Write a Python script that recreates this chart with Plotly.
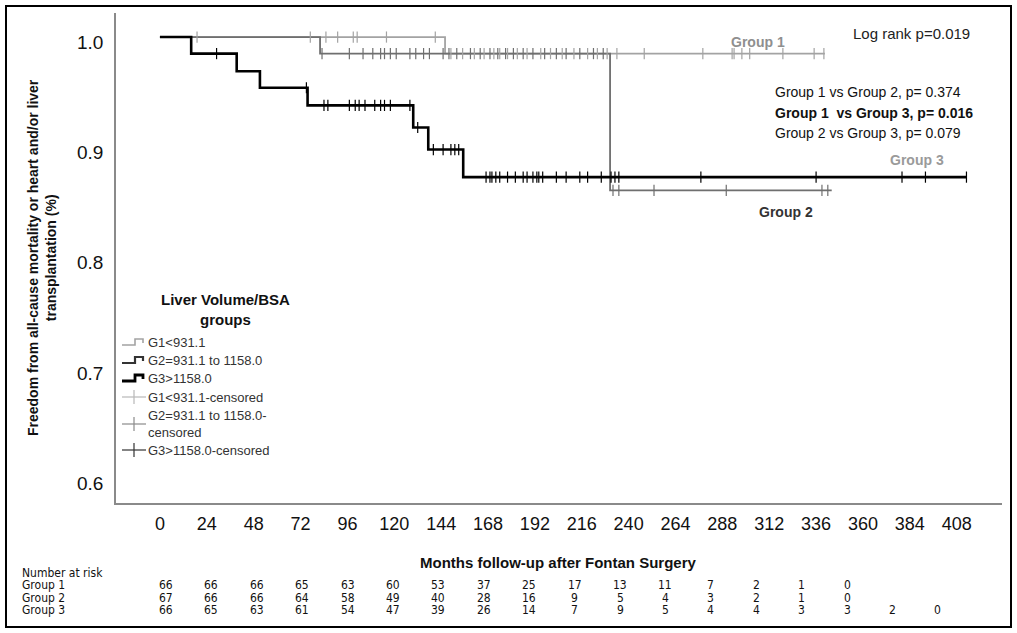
import plotly.graph_objects as go

# ---------------- data ----------------
months_ticks = list(range(0, 409, 24))
y_ticks = [0.6, 0.7, 0.8, 0.9, 1.0]

g1_time = [0, 146, 340.5]
g1_surv = [1.0, 0.985, 0.985]
g2_time = [0, 82, 230.5, 344]
g2_surv = [1.0, 0.985, 0.861, 0.861]
g3_time = [0, 16, 39.3, 51.2, 75.6, 129.7, 137.4, 155.3, 413]
g3_surv = [1.0, 0.985, 0.969, 0.954, 0.938, 0.918, 0.898, 0.873, 0.873]

g1_cens = [19, 77, 85, 91, 99, 101, 116, 141, 149, 155, 161, 166, 171, 174, 178,
           183, 188, 195, 200, 206, 212, 219, 224, 229, 234, 248, 278, 293, 294,
           298, 302, 319, 335, 340]
g2_cens = [83, 97, 104, 109, 113, 115, 118, 121, 128, 131, 135, 138, 145, 148, 152,
           159, 164, 169, 173, 177, 181, 186, 191, 197, 203, 208, 215, 222, 227,
           232, 235, 253, 290, 339, 342]
g3_cens = [29, 75, 84, 86, 97, 100, 102, 105, 110, 113, 115, 118, 128, 132, 140,
           145, 149, 151, 153, 167, 169, 170, 172, 174, 178, 182, 186, 188, 191,
           193, 194, 196, 203, 208, 215, 219, 226, 231, 233, 235, 277, 336, 380,
           392, 413]

risk_g1 = [66, 66, 66, 65, 63, 60, 53, 37, 25, 17, 13, 11, 7, 2, 1, 0]
risk_g2 = [67, 66, 66, 64, 58, 49, 40, 28, 16, 9, 5, 4, 3, 2, 1, 0]
risk_g3 = [66, 65, 63, 61, 54, 47, 39, 26, 14, 7, 9, 5, 4, 4, 3, 3, 2, 0]
risk_labels = ["Group 1", "Group 2", "Group 3"]

legend_labels = ["G1&lt;931.1", "G2=931.1 to 1158.0", "G3&gt;1158.0",
                 "G1&lt;931.1-censored", "G2=931.1 to 1158.0-<br>censored",
                 "G3&gt;1158.0-censored"]

pvalue_lines = ["Group 1 vs Group 2, p= 0.374", "<b>Group 1  vs Group 3, p= 0.016</b>",
                "Group 2 vs Group 3, p= 0.079"]

# ---------------- styles ----------------
C1, C2, C3 = "#a3a3a3", "#6f6f6f", "#000000"
FONT = "Liberation Sans, Arial, sans-serif"
NARROW = "Liberation Sans Narrow, Arial Narrow, DejaVu Sans Condensed, sans-serif"

L, T, W, H = 116, 13, 886, 490


def px(x):
    return (x - L) / W


def py(y):
    return (T + H - y) / H


def step_at(times, surv, t):
    v = surv[0]
    for ti, si in zip(times, surv):
        if ti <= t:
            v = si
    return v


fig = go.Figure()
for times, surv, col, w in [(g1_time, g1_surv, C1, 1.8), (g2_time, g2_surv, C2, 1.8),
                            (g3_time, g3_surv, C3, 2.6)]:
    fig.add_trace(go.Scatter(x=times, y=surv, mode="lines", line=dict(shape="hv", color=col, width=w),
                             showlegend=False, hoverinfo="skip"))
for cens, times, surv, col in [(g1_cens, g1_time, g1_surv, C1), (g2_cens, g2_time, g2_surv, C2),
                               (g3_cens, g3_time, g3_surv, C3)]:
    fig.add_trace(go.Scatter(x=cens, y=[step_at(times, surv, t) for t in cens], mode="markers",
                             marker=dict(symbol="line-ns-open", size=8, color=col,
                                         line=dict(color=col, width=1.2)),
                             showlegend=False, hoverinfo="skip"))

ann = []
shapes = []


def text(x, y, t, size, color="#111", xa="left", family=FONT, **kw):
    ann.append(dict(xref="paper", yref="paper", x=px(x), y=py(y), xanchor=xa, yanchor="middle",
                    showarrow=False, text=t, font=dict(family=family, size=size, color=color), **kw))


# outer frame
shapes.append(dict(type="rect", xref="paper", yref="paper", x0=px(6), x1=px(1011), y0=py(627), y1=py(6),
                   line=dict(color="#000", width=2)))

# axis titles
text(42, 258, "<b>Freedom from all-cause mortality or heart and/or liver<br>transplantation (%)</b>",
     14, xa="center", textangle=-90)
text(558, 562, "<b>Months follow-up after Fontan Surgery</b>", 15, xa="center")

# in-plot annotations
text(851, 33, "Log rank p=0.019", 15, "#222")
text(729, 42, "<b>Group 1</b>", 14, "#8f8f8f")
text(888, 160, "<b>Group 3</b>", 14, "#9a9a9a")
text(757, 212, "<b>Group 2</b>", 14, "#333")
for i, t in enumerate(pvalue_lines):
    text(773, 92 + 20.5 * i, t, 14)

# legend
text(225, 309, "<b>Liver Volume/BSA<br>groups</b>", 15, xa="center")
leg_rows = [342, 360, 378, 397, 424, 450]
leg_cols = [(C1, 1.6), ("#333", 2.2), ("#000", 2.8), ("#b8b8b8", 1.2), ("#8a8a8a", 1.2), ("#333", 1.2)]
for i, (lab, yy, (col, lw)) in enumerate(zip(legend_labels, leg_rows, leg_cols)):
    text(146, yy, lab, 13, "#333", align="left")
    if i < 3:
        path = "M {} {} L {} {} L {} {} L {} {} L {} {}".format(
            px(122), py(yy + 3), px(135), py(yy + 3), px(135), py(yy - 3),
            px(143), py(yy - 3), px(143), py(yy + 1))
        shapes.append(dict(type="path", xref="paper", yref="paper", path=path,
                           line=dict(color=col, width=lw)))
    else:
        shapes.append(dict(type="line", xref="paper", yref="paper", x0=px(122), x1=px(146),
                           y0=py(yy), y1=py(yy), line=dict(color=col, width=lw)))
        shapes.append(dict(type="line", xref="paper", yref="paper", x0=px(134), x1=px(134),
                           y0=py(yy - 7), y1=py(yy + 7), line=dict(color=col, width=lw)))

# number at risk table
text(20, 573, "Number at risk", 12, family=NARROW)
for r, (lab, vals) in enumerate(zip(risk_labels, [risk_g1, risk_g2, risk_g3])):
    yy = 585 + 12.7 * r
    text(20, yy, lab, 12, family=NARROW)
    for i, v in enumerate(vals):
        text(166 + 45.4 * i, yy, str(v), 12, xa="center", family=NARROW)

fig.update_layout(
    width=1017, height=633, margin=dict(l=L, r=1017 - L - W, t=T, b=633 - T - H),
    paper_bgcolor="white", plot_bgcolor="white", showlegend=False,
    annotations=ann, shapes=shapes,
    xaxis=dict(range=[-22.5, 431.2], tickvals=months_ticks, ticks="", showgrid=False, zeroline=False,
               showline=True, linecolor="#8a8a8a", linewidth=1.5, ticklabelstandoff=4,
               tickfont=dict(family=FONT, size=18, color="#111")),
    yaxis=dict(range=[0.5775, 1.0218], tickvals=y_ticks, ticktext=[f"{v:.1f}" for v in y_ticks],
               ticks="", showgrid=False, zeroline=False, showline=True, linecolor="#8a8a8a",
               linewidth=1.5, ticklabelstandoff=7, ticklabelshift=5,
               tickfont=dict(family=FONT, size=19, color="#111")),
)
fig.write_html("out.html", config={"displayModeBar": False},
               post_script="document.body.style.margin='0px';")
